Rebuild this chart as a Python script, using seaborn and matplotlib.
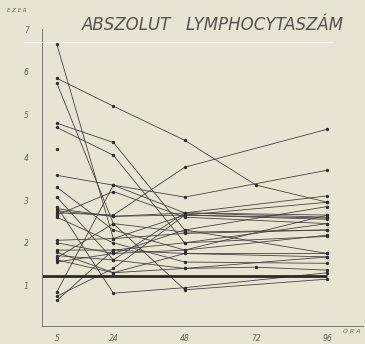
import numpy as np
import pandas as pd
import matplotlib
matplotlib.use("Agg")
import matplotlib.pyplot as plt
from matplotlib.lines import Line2D
import seaborn as sns

# ---- data ----
HOURS = [5, 24, 48, 72, 96]
HOUR_LABELS = ["5", "24", "48", "72", "96"]
Y_TICKS = [1, 2, 3, 4, 5, 6, 7]
NORMAL_LIMIT = 1.22
nan = np.nan
p01 = [6.65, 2.10, 2.65, nan, 2.55]
p02 = [5.85, 5.20, 4.40, 3.35, 2.95]
p03 = [5.74, 2.45, 2.25, nan, 2.30]
p04 = [4.80, 4.35, 2.30, nan, 1.75]
p05 = [4.70, 4.05, 2.00, nan, 2.15]
p06 = [4.20, nan, nan, nan, nan]
p07 = [3.58, 3.35, 3.07, nan, 3.70]
p08 = [3.30, 2.30, 1.83, nan, 2.65]
p09 = [3.07, 1.60, 2.70, nan, 2.60]
p10 = [2.85, 0.82, 0.95, nan, 1.30]
p11 = [2.80, 2.62, 2.70, nan, 2.65]
p12 = [2.75, 2.62, 2.65, nan, 2.58]
p13 = [2.70, 2.65, 3.77, nan, 4.66]
p14 = [2.65, 3.20, 2.60, nan, 2.45]
p15 = [2.60, 2.00, 1.55, nan, 1.52]
p16 = [2.06, 2.10, 2.22, nan, 2.30]
p17 = [2.00, 1.75, 2.30, nan, 2.85]
p18 = [1.83, 1.83, 2.00, nan, 2.45]
p19 = [1.78, 1.30, 1.75, nan, 1.67]
p20 = [1.70, 1.60, 1.40, 1.43, 1.36]
p21 = [1.65, 2.45, 0.90, nan, 1.15]
p22 = [1.55, 1.75, 1.83, nan, 2.18]
p23 = [0.85, 3.35, 2.70, nan, 3.10]
p24 = [0.75, 1.40, 2.65, nan, 2.95]
p25 = [0.65, 1.83, 1.75, nan, 1.75]
p26 = [1.60, 1.30, 1.40, nan, 1.67]
patients = [p01, p02, p03, p04, p05, p06, p07, p08, p09, p10, p11, p12, p13,
            p14, p15, p16, p17, p18, p19, p20, p21, p22, p23, p24, p25, p26]

rows = []
for i, vals in enumerate(patients):
    for h, v in zip(HOURS, vals):
        rows.append({"patient": i, "hour": h, "value": v})
df = pd.DataFrame(rows).dropna()

# ---- style ----
BG = "#e8e4d4"
INK = "#45433e"
sns.set_theme(style="white")
plt.rcParams["font.family"] = ["DejaVu Sans"]

fig = plt.figure(figsize=(3.65, 3.44), dpi=100, facecolor=BG)
ax = fig.add_axes([0.115, 0.052, 0.88, 0.863], facecolor=BG)

sns.lineplot(data=df, x="hour", y="value", units="patient", estimator=None,
             color=INK, linewidth=0.6, marker="o", markersize=2.4,
             markeredgewidth=0, markerfacecolor="#2e2d2a", sort=True,
             ax=ax, legend=False)

ax.hlines(NORMAL_LIMIT, 0, HOURS[-1], color="#2a2926", linewidth=2.0)

ax.set_xlim(0, 108)
ax.set_ylim(0.05, 7.0)
ax.set_xticks(HOURS)
ax.set_xticklabels(HOUR_LABELS)
ax.set_yticks(Y_TICKS)
ax.set_xlabel("")
ax.set_ylabel("")
for s in ["top", "right"]:
    ax.spines[s].set_visible(False)
for s in ["left", "bottom"]:
    ax.spines[s].set_color("#7a776f")
    ax.spines[s].set_linewidth(0.7)
ax.tick_params(axis="both", length=2.5, width=0.6, color="#7a776f",
               labelsize=5.5, labelcolor="#6a675f")
ax.tick_params(axis="x", pad=3)
ax.tick_params(axis="y", pad=7)
for t in ax.get_xticklabels() + ax.get_yticklabels():
    t.set_fontstyle("italic")

fig.text(0.225, 0.928, "ABSZOLUT   LYMPHOCYTASZÁM", fontsize=12,
         fontstyle="italic", fontweight="light", color="#55534c",
         ha="left", va="center")
fig.text(0.02, 0.97, "E Z E R", fontsize=4, fontstyle="italic",
         color="#6a675f", ha="left", va="center")
fig.text(0.94, 0.035, "Ó R A", fontsize=4.5, fontstyle="italic",
         color="#6a675f", ha="left", va="center")

# white crease visible across the scan
fig.add_artist(Line2D([0.066, 0.91], [0.877, 0.877], color="#f7f5ef",
                      linewidth=0.9, transform=fig.transFigure))

fig.savefig("out.png", dpi=100, facecolor=BG)
